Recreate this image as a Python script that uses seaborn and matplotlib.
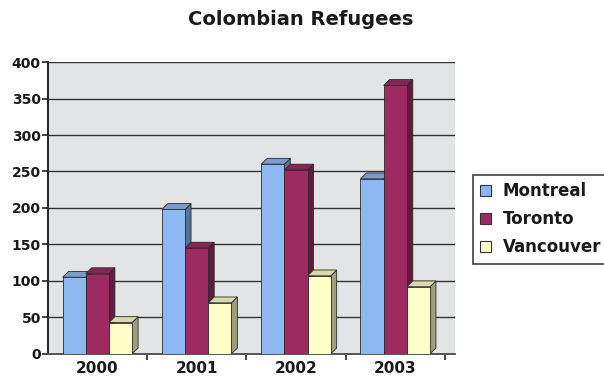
import matplotlib
matplotlib.use("Agg")
import matplotlib.pyplot as plt
import matplotlib.colors as mcolors
from matplotlib.patches import Polygon
from matplotlib.ticker import FixedLocator
import seaborn as sns
import pandas as pd

# Refugee counts per city and year
years = ["2000", "2001", "2002", "2003"]
cities = ["Montreal", "Toronto", "Vancouver"]
montreal = [105, 198, 260, 240]
toronto = [110, 145, 252, 368]
vancouver = [43, 70, 107, 92]
y_ticks = [0, 50, 100, 150, 200, 250, 300, 350, 400]

palette = {"Montreal": "#8DB8F2", "Toronto": "#9E2A62", "Vancouver": "#FFFFC8"}

df = pd.DataFrame({
    "year": years * 3,
    "city": [c for c in cities for _ in years],
    "refugees": montreal + toronto + vancouver,
})

sns.set_theme(style="white")
plt.rcParams["font.family"] = ["DejaVu Sans"]

fig = plt.figure(figsize=(6.04, 3.83), dpi=100)
ax = fig.add_axes([0.079, 0.076, 0.674, 0.762])
ax.set_facecolor("#E2E4E6")

sns.barplot(data=df, x="year", y="refugees", hue="city", hue_order=cities,
            order=years, palette=palette, width=0.70, saturation=1,
            edgecolor="#2a2a2a", linewidth=0.6, legend=False, ax=ax)

# extrude each bar with a right side face and a top face
dx, dy = 0.06, 8
for i, container in enumerate(ax.containers):
    base = mcolors.to_rgb(palette[cities[i]])
    side = tuple(c * 0.62 for c in base)
    top = tuple(c * 0.85 for c in base)
    for rect in container:
        x0, w, h = rect.get_x(), rect.get_width(), rect.get_height()
        z = 3 + i
        rect.set_zorder(z + 0.5)
        ax.add_patch(Polygon([(x0 + w, 0), (x0 + w + dx, dy), (x0 + w + dx, h + dy), (x0 + w, h)],
                             closed=True, facecolor=side, edgecolor="#2a2a2a", lw=0.6, zorder=z))
        ax.add_patch(Polygon([(x0, h), (x0 + dx, h + dy), (x0 + w + dx, h + dy), (x0 + w, h)],
                             closed=True, facecolor=top, edgecolor="#2a2a2a", lw=0.6, zorder=z))

ax.set_xlim(-0.5, 3.6)
ax.set_ylim(0, 400)
ax.set_yticks(y_ticks)
ax.yaxis.grid(True, color="#333333", linewidth=1.0)
ax.set_axisbelow(True)

for side_name in ["top", "right"]:
    ax.spines[side_name].set_visible(False)
ax.spines["left"].set_color("#222222")
ax.spines["left"].set_linewidth(1.4)
ax.spines["bottom"].set_color("#555555")
ax.spines["bottom"].set_linewidth(1.4)

ax.tick_params(axis="y", which="major", length=4, width=1.2, color="#222222",
               labelsize=10, pad=1, left=True)
ax.tick_params(axis="x", which="major", length=0, labelsize=11, pad=5)
ax.xaxis.set_minor_locator(FixedLocator([0.5, 1.5, 2.5, 3.5]))
ax.tick_params(axis="x", which="minor", length=4, width=1.2, color="#222222", bottom=True)
for lab in ax.get_xticklabels() + ax.get_yticklabels():
    lab.set_fontweight("bold")
    lab.set_color("#1a1a1a")
ax.set_xlabel("")
ax.set_ylabel("")

fig.text(0.497, 0.948, "Colombian Refugees", ha="center", va="center",
         fontsize=14, fontweight="bold", color="#1a1a1a")

handles = [plt.Rectangle((0, 0), 1, 1, facecolor=palette[c], edgecolor="#333333", lw=0.8)
           for c in cities]
leg = fig.legend(handles, cities, loc="center left", bbox_to_anchor=(0.783, 0.428),
                 frameon=True, fancybox=False, edgecolor="#111111", fontsize=12,
                 handlelength=0.65, handleheight=0.65, handletextpad=0.7,
                 labelspacing=0.6, borderpad=0.45, borderaxespad=0)
leg.get_frame().set_linewidth(1.2)
for t in leg.get_texts():
    t.set_fontweight("bold")
    t.set_color("#1a1a1a")

fig.savefig("out.png", dpi=100, facecolor="white")
